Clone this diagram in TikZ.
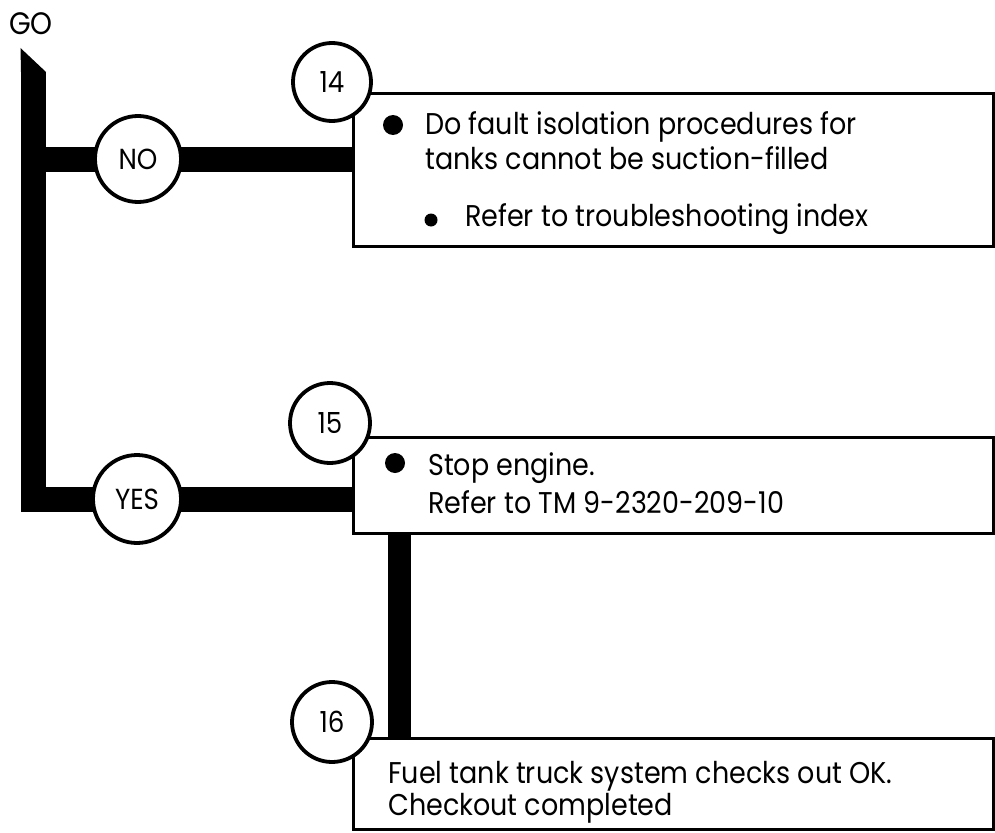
\documentclass[tikz,border=0pt]{standalone}
\usepackage{fontspec}
\setmainfont[FakeStretch=0.9]{Poppins}
\pgfdeclarelayer{bg}
\pgfsetlayers{bg,main}
\begin{document}
\begin{tikzpicture}[x=1pt,y=-1pt,
  bar/.style={line width=25pt,line join=miter},
  ring/.style={circle,draw,line width=3.8pt,fill=white,inner sep=0pt,font=\fontsize{29}{29}\selectfont},
  stepbox/.style={draw,line width=3pt,fill=white,inner sep=0pt,anchor=north west,minimum width=640pt},
  txt/.style={anchor=base west,inner sep=0pt,font=\fontsize{30}{30}\selectfont},
  bigdot/.style={circle,fill,minimum size=20pt,inner sep=0pt},
  smalldot/.style={circle,fill,minimum size=13pt,inner sep=0pt}]
\useasboundingbox (0,0) rectangle (995,832);

% boxes
\node[stepbox,minimum height=153pt] (box14) at (352,92) {};
\node[stepbox,minimum height=96pt] (box15) at (352,436) {};
\node[stepbox,minimum height=91pt] (box16) at (352,737) {};

% decision circles
\node[ring,minimum size=86pt] (no) at (138,159) {NO};
\node[ring,minimum size=88pt] (yes) at (137,499) {YES};

% step number circles
\node[ring,minimum size=78pt] (n14) at (332,82) {14};
\node[ring,minimum size=80pt] (n15) at (330,423) {15};
\node[ring,minimum size=80pt] (n16) at (332,722) {16};

% start label and trunk
\node[inner sep=0pt,font=\fontsize{31}{31}\selectfont] (go) at (31,24) {GO};
\coordinate (trunktop) at (33.5,72);
\coordinate (turn) at (33.5,499);
\coordinate (bx) at (399,0);
\fill (20.5,48) -- (46,72) -- (21,72) -- cycle;

\begin{pgfonlayer}{bg}
\draw[bar] (trunktop) -- (turn) -- (box15.west |- turn);
\draw[bar] (trunktop |- no) -- (box14.west |- no);
\draw[bar,line width=23pt] (bx |- box15.south) -- (bx |- box16.north);
\end{pgfonlayer}

% box 14 text
\node[bigdot] (d14) at (393,125) {};
\node[txt] (t14a) at (425,135) {Do fault isolation procedures for};
\node[txt] (t14b) at (425,169) {tanks cannot be suction-filled};
\node[smalldot] (d14b) at (431,220) {};
\node[txt] (t14c) at (465,226) {Refer to troubleshooting index};

% box 15 text
\node[bigdot] (d15) at (395,463) {};
\node[txt] (t15a) at (428,475) {Stop engine.};
\node[txt] (t15b) at (428,513) {Refer to TM 9-2320-209-10};

% box 16 text
\node[txt] (t16a) at (388,783) {Fuel tank truck system checks out OK.};
\node[txt] (t16b) at (388,815) {Checkout completed};
\end{tikzpicture}
\end{document}
